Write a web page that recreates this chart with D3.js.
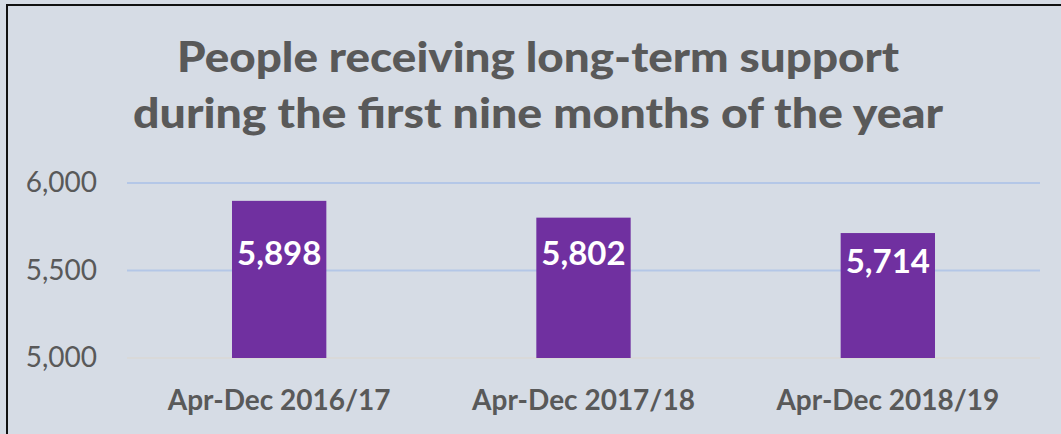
<!DOCTYPE html>
<html>
<head>
<meta charset="utf-8">
<script src="https://cdn.jsdelivr.net/npm/d3@7"></script>
<style>
  body { margin: 0; background: #d6dce5; }
  svg { display: block; font-family: Lato, "Open Sans", sans-serif; }
</style>
</head>
<body>
<svg width="1061" height="434"></svg>
<script>
const titleLines = ["People receiving long-term support", "during the first nine months of the year"];
const categories = ["Apr-Dec 2016/17", "Apr-Dec 2017/18", "Apr-Dec 2018/19"];
const values = [5898, 5802, 5714];
const yTicks = [5000, 5500, 6000];

const svg = d3.select("svg");
const width = 1061, height = 434;

// chart area background + frame (only top/left edges visible in the crop)
svg.append("rect").attr("width", width).attr("height", height).attr("fill", "#d6dce5");
svg.append("path")
    .attr("d", `M7,${height} V5 H${width}`)
    .attr("fill", "none")
    .attr("stroke", "#111")
    .attr("stroke-width", 2);

const x = d3.scaleBand()
    .domain(categories)
    .range([127, 1040])
    .paddingInner(0.69)
    .paddingOuter(0.345);

const y = d3.scaleLinear()
    .domain([5000, 6000])
    .range([358, 183]);

// title - Calibri isn't around, so stretch Lato to the original line widths
const titleWidths = [722, 810];
svg.append("g").selectAll("text")
    .data(titleLines)
    .enter().append("text")
    .attr("x", 538)
    .attr("y", (d, i) => 72 + i * 56)
    .attr("text-anchor", "middle")
    .attr("font-size", 42)
    .attr("font-weight", 900)
    .attr("fill", "#595959")
    .attr("textLength", (d, i) => titleWidths[i])
    .attr("lengthAdjust", "spacingAndGlyphs")
    .text(d => d);

// gridlines
svg.append("g").selectAll("line")
    .data(yTicks)
    .enter().append("line")
    .attr("x1", 127).attr("x2", 1040)
    .attr("y1", d => y(d)).attr("y2", d => y(d))
    .attr("stroke", d => d === 5000 ? "#d9d9d9" : "#b4c7e7")
    .attr("stroke-width", 2);

// y axis labels
const yAxis = svg.append("g")
    .attr("transform", "translate(97,0)")
    .call(d3.axisLeft(y).tickValues(yTicks).tickFormat(d3.format(",")).tickSize(0).tickPadding(0));
yAxis.select(".domain").remove();
yAxis.selectAll("text")
    .attr("font-family", "Lato, sans-serif")
    .attr("font-size", 28)
    .attr("fill", "#595959");

// bars
svg.append("g").selectAll("rect")
    .data(values)
    .enter().append("rect")
    .attr("x", (d, i) => x(categories[i]))
    .attr("y", d => y(d))
    .attr("width", x.bandwidth())
    .attr("height", d => y(5000) - y(d))
    .attr("fill", "#7030a0");

// value labels
svg.append("g").selectAll("text")
    .data(values)
    .enter().append("text")
    .attr("x", (d, i) => x(categories[i]) + x.bandwidth() / 2)
    .attr("y", d => Math.max(y(5530), y(d) + 40))
    .attr("text-anchor", "middle")
    .attr("font-size", 33)
    .attr("font-weight", "bold")
    .attr("fill", "#fff")
    .text(d => d3.format(",")(d));

// x axis labels
svg.append("g").selectAll("text")
    .data(categories)
    .enter().append("text")
    .attr("x", d => x(d) + x.bandwidth() / 2)
    .attr("y", 410)
    .attr("text-anchor", "middle")
    .attr("font-size", 28)
    .attr("font-weight", "bold")
    .attr("fill", "#595959")
    .text(d => d);
</script>
</body>
</html>
